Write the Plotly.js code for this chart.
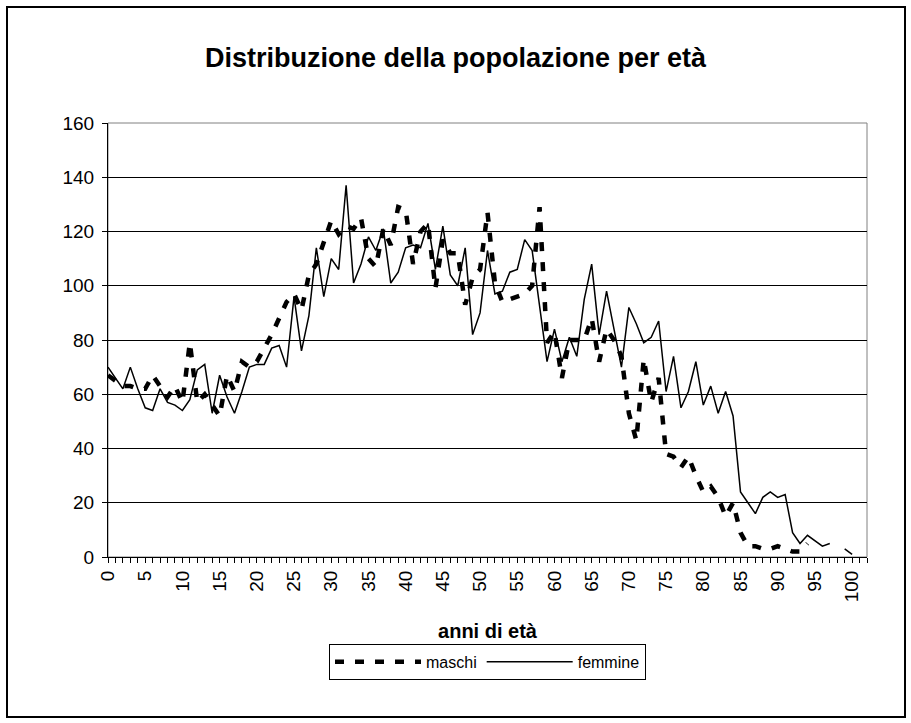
<!DOCTYPE html>
<html>
<head>
<meta charset="utf-8">
<script src="https://cdn.plot.ly/plotly-3.0.1.min.js"></script>
<style>
  html, body { margin: 0; padding: 0; background: #fff; }
  #wrap { position: relative; width: 911px; height: 723px; }
  #chart { width: 911px; height: 723px; }
  #frame { position: absolute; left: 6px; top: 6px; width: 896px; height: 708px;
           border: 2px solid #000; pointer-events: none; }
</style>
</head>
<body>
<div id="wrap">
  <div id="chart"></div>
  <div id="frame"></div>
</div>
<script>
// Age categories (anni di età)
const ages = [0,1,2,3,4,5,6,7,8,9,10,11,12,13,14,15,16,17,18,19,20,21,22,23,24,25,26,27,28,29,30,31,32,33,34,35,36,37,38,39,40,41,42,43,44,45,46,47,48,49,50,51,52,53,54,55,56,57,58,59,60,61,62,63,64,65,66,67,68,69,70,71,72,73,74,75,76,77,78,79,80,81,82,83,84,85,86,87,88,89,90,91,92,93,94,95,96,97,98,99,100,101,102];

// Tick labels shown every 5 years
const tickLabels = ["0","","","","","5","","","","","10","","","","","15","","","","","20","","","","","25","","","","","30","","","","","35","","","","","40","","","","","45","","","","","50","","","","","55","","","","","60","","","","","65","","","","","70","","","","","75","","","","","80","","","","","85","","","","","90","","","","","95","","","","","100","",""];

// maschi (males)
const maschi = [67,65,63,63,62,62,67,63,59,63,57,79,57,60,56,52,67,61,72,70,
                72,77,82,88,94,97,91,104,108,116,124,119,122,121,125,110,107,121,115,129,
                128,108,120,123,99,117,112,112,93,103,106,127,101,94,95,96,97,100,129,79,
                83,66,80,80,80,88,72,84,80,74,53,43,73,57,66,38,37,33,37,30,
                24,26,22,15,20,9,4,4,3,3,4,3,2,2,5,null,null,null,null,null,
                null,null,null];

// femmine (females)
const femmine = [70,66,62,70,62,55,54,62,57,56,54,58,69,71,53,67,59,53,61,70,
                 71,71,77,78,70,96,76,89,114,96,110,106,137,101,108,118,113,121,101,105,
                 114,115,114,123,106,122,104,100,114,82,90,113,97,98,105,106,117,113,92,72,
                 84,72,81,74,95,108,82,98,84,70,92,86,79,81,87,61,74,55,61,72,
                 56,63,53,61,52,24,20,16,22,24,22,23,9,5,8,6,4,5,null,3,
                 1,null,null];

const FONT = "Liberation Sans, Arial, sans-serif";

const traces = [
  {
    x: ages, y: maschi, name: "maschi", type: "scatter", mode: "lines",
    line: { color: "#000", width: 4.5, dash: "9px,11px" },
    connectgaps: false
  },
  {
    x: ages, y: femmine, name: "femmine", type: "scatter", mode: "lines",
    line: { color: "#000", width: 1.5 },
    connectgaps: false
  }
];

const layout = {
  width: 911, height: 723,
  margin: { l: 108, r: 44, t: 123, b: 166, pad: 0 },
  paper_bgcolor: "#fff", plot_bgcolor: "#fff",
  font: { family: FONT, color: "#000", size: 16 },
  title: {
    text: "<b>Distribuzione della popolazione per età</b>",
    font: { family: FONT, size: 27, color: "#000" },
    x: 0.5, xref: "container", xanchor: "center",
    y: 1 - 58 / 723, yref: "container", yanchor: "middle"
  },
  xaxis: {
    range: [0, 102],
    tickmode: "array", tickvals: ages, ticktext: tickLabels,
    tickangle: -90,
    ticks: "outside", ticklen: 5, tickwidth: 1, tickcolor: "#000",
    showline: true, linecolor: "#000", linewidth: 1,
    showgrid: false, zeroline: false,
    tickfont: { family: FONT, size: 19, color: "#000" },
    title: { text: "<b>anni di età</b>", font: { family: FONT, size: 20, color: "#000" }, standoff: 22 }
  },
  yaxis: {
    range: [0, 160], dtick: 20, tick0: 0,
    ticks: "outside", ticklen: 5, tickwidth: 1, tickcolor: "#000",
    ticklabelstandoff: 4,
    showline: true, linecolor: "#000", linewidth: 1,
    showgrid: true, gridcolor: "#000", gridwidth: 1,
    zeroline: false,
    tickfont: { family: FONT, size: 19, color: "#000" }
  },
  showlegend: true,
  legend: {
    orientation: "h",
    x: 0.5, xanchor: "center", xref: "paper",
    y: -0.2, yanchor: "top", yref: "paper",
    bordercolor: "#000", borderwidth: 1, bgcolor: "#fff",
    font: { family: FONT, size: 16, color: "#000" },
    itemwidth: 86
  },
  shapes: [
    { type: "rect", xref: "paper", yref: "paper", x0: 0, x1: 1, y0: 0, y1: 1,
      line: { color: "#808080", width: 1 }, fillcolor: "rgba(0,0,0,0)", layer: "below" }
  ]
};

Plotly.newPlot("chart", traces, layout, { displayModeBar: false, staticPlot: true });
</script>
</body>
</html>
